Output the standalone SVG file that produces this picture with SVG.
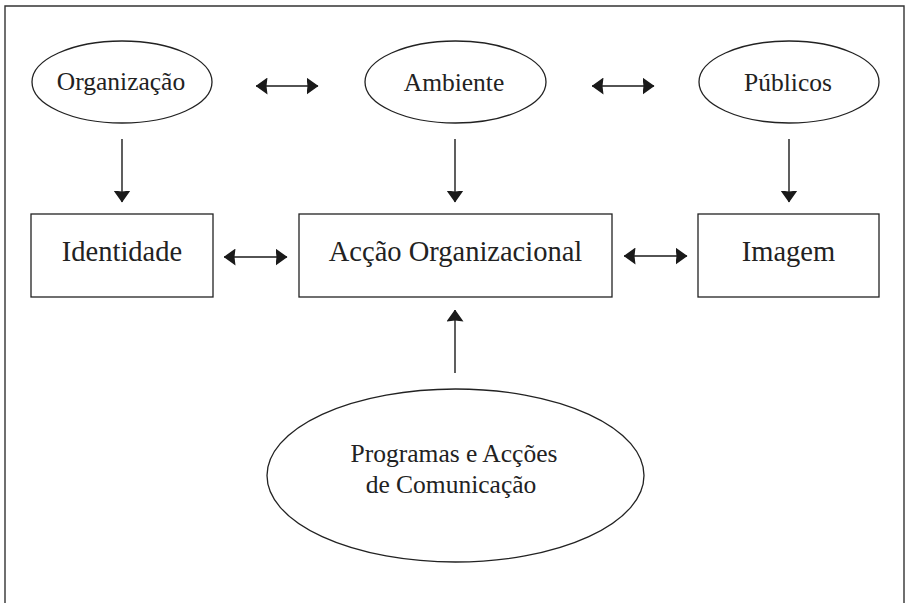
<svg xmlns="http://www.w3.org/2000/svg" width="906" height="603" viewBox="0 0 906 603">
<defs>
<marker id="ah" viewBox="0 0 12 17" refX="11.5" refY="8.5" markerWidth="12" markerHeight="17" markerUnits="userSpaceOnUse" orient="auto-start-reverse">
<path d="M0,0 L12,8.5 L0,17 L1,8.5 Z" fill="#1a1a1a"/>
</marker>
<style>
.shape{fill:#fff;stroke:#222;stroke-width:1.3}
.frame{fill:none;stroke:#333;stroke-width:1.4}
.conn{fill:none;stroke:#1a1a1a;stroke-width:1.4}
.t1{font-family:"Liberation Serif",serif;font-size:25.5px;fill:#222;text-anchor:middle}
.t2{font-family:"Liberation Serif",serif;font-size:28.5px;fill:#222;text-anchor:middle}
</style>
</defs>
<rect width="906" height="603" fill="#fff"/>
<path class="frame" d="M5,606 L5,6 L904,6 L904,606"/>
<g id="organizacao"><ellipse class="shape" cx="122" cy="82" rx="90" ry="41"/><text class="t1" x="121" y="90">Organização</text></g>
<g id="ambiente"><ellipse class="shape" cx="455.5" cy="82" rx="90.5" ry="41"/><text class="t1" x="454" y="91">Ambiente</text></g>
<g id="publicos"><ellipse class="shape" cx="789" cy="82" rx="90" ry="41"/><text class="t1" x="788" y="91">Públicos</text></g>
<g id="identidade"><rect class="shape" x="31" y="214" width="182" height="83"/><text class="t2" x="122" y="261">Identidade</text></g>
<g id="accao"><rect class="shape" x="299" y="214" width="313" height="83"/><text class="t2" x="455.5" y="261">Acção Organizacional</text></g>
<g id="imagem"><rect class="shape" x="698" y="214" width="181" height="83"/><text class="t2" x="788.5" y="261">Imagem</text></g>
<g id="programas"><ellipse class="shape" cx="455.5" cy="475.5" rx="188.5" ry="86.5"/><text class="t1" x="454" y="462">Programas e Acções</text><text class="t1" x="451" y="493">de Comunicação</text></g>
<g id="connectors">
<line class="conn" x1="256" y1="86" x2="318" y2="86" marker-start="url(#ah)" marker-end="url(#ah)"/>
<line class="conn" x1="592" y1="86" x2="654" y2="86" marker-start="url(#ah)" marker-end="url(#ah)"/>
<line class="conn" x1="122" y1="139" x2="122" y2="202" marker-end="url(#ah)"/>
<line class="conn" x1="455" y1="139" x2="455" y2="202" marker-end="url(#ah)"/>
<line class="conn" x1="789" y1="139" x2="789" y2="202" marker-end="url(#ah)"/>
<line class="conn" x1="224" y1="257" x2="287" y2="257" marker-start="url(#ah)" marker-end="url(#ah)"/>
<line class="conn" x1="624" y1="256" x2="687" y2="256" marker-start="url(#ah)" marker-end="url(#ah)"/>
<line class="conn" x1="455" y1="373" x2="455" y2="310" marker-end="url(#ah)"/>
</g>
</svg>
